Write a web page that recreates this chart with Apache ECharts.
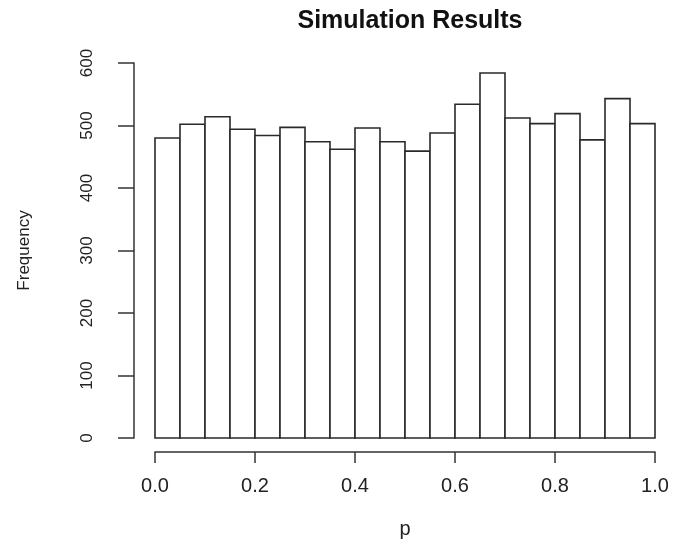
<!DOCTYPE html>
<html>
<head>
<meta charset="utf-8">
<script src="https://cdn.jsdelivr.net/npm/echarts@6/dist/echarts.min.js"></script>
<style>
  html, body { margin: 0; padding: 0; background: #fff; }
  #chart { width: 680px; height: 541px; }
</style>
</head>
<body>
<div id="chart"></div>
<script>
// histogram bin edges and counts
var binStart = [0.00, 0.05, 0.10, 0.15, 0.20, 0.25, 0.30, 0.35, 0.40, 0.45,
                0.50, 0.55, 0.60, 0.65, 0.70, 0.75, 0.80, 0.85, 0.90, 0.95];
var binEnd   = [0.05, 0.10, 0.15, 0.20, 0.25, 0.30, 0.35, 0.40, 0.45, 0.50,
                0.55, 0.60, 0.65, 0.70, 0.75, 0.80, 0.85, 0.90, 0.95, 1.00];
var counts   = [480, 502, 514, 494, 484, 497, 474, 462, 496, 474,
                459, 488, 534, 584, 512, 503, 519, 477, 543, 503];

var font = 'Liberation Sans, Arial, sans-serif';
var ink = '#222';

var rows = binStart.map(function (s, i) { return [s, binEnd[i], counts[i]]; });

var chart = echarts.init(document.getElementById('chart'));
chart.setOption({
  animation: false,
  backgroundColor: '#fff',
  title: {
    text: 'Simulation Results',
    left: 405, top: 4,
    textAlign: 'center',
    textStyle: { fontFamily: font, fontSize: 25, fontWeight: 'bold', color: '#111' }
  },
  grid: { left: 155, right: 25, top: 63, bottom: 103, outerBoundsMode: 'none' },
  xAxis: {
    type: 'value',
    min: 0, max: 1, interval: 0.2,
    offset: 14,
    name: 'p',
    nameLocation: 'middle',
    nameGap: 67,
    nameTextStyle: { fontFamily: font, fontSize: 20, color: ink },
    axisLine: { show: true, onZero: false, lineStyle: { color: '#333', width: 1.5 } },
    axisTick: { show: true, length: 11, lineStyle: { color: '#333', width: 1.5 } },
    axisLabel: {
      margin: 24, fontFamily: font, fontSize: 20, color: ink,
      formatter: function (v) { return v.toFixed(1); }
    },
    splitLine: { show: false }
  },
  yAxis: {
    type: 'value',
    min: 0, max: 600, interval: 100,
    offset: 21,
    name: 'Frequency',
    nameLocation: 'middle',
    nameGap: 101,
    nameRotate: 90,
    nameTextStyle: { fontFamily: font, fontSize: 17, color: ink },
    axisLine: { show: true, onZero: false, lineStyle: { color: '#333', width: 1.5 } },
    axisTick: { show: true, length: 16, lineStyle: { color: '#333', width: 1.5 } },
    axisLabel: { margin: 38, rotate: 90, fontFamily: font, fontSize: 17, color: ink },
    splitLine: { show: false }
  },
  series: [{
    type: 'custom',
    data: rows,
    encode: { x: [0, 1], y: 2 },
    renderItem: function (params, api) {
      var p0 = api.coord([api.value(0), 0]);
      var p1 = api.coord([api.value(1), api.value(2)]);
      return {
        type: 'rect',
        shape: { x: p0[0], y: p1[1], width: p1[0] - p0[0], height: p0[1] - p1[1] },
        style: { fill: '#fff', stroke: '#2a2a2a', lineWidth: 1.6 }
      };
    }
  }]
});
</script>
</body>
</html>
